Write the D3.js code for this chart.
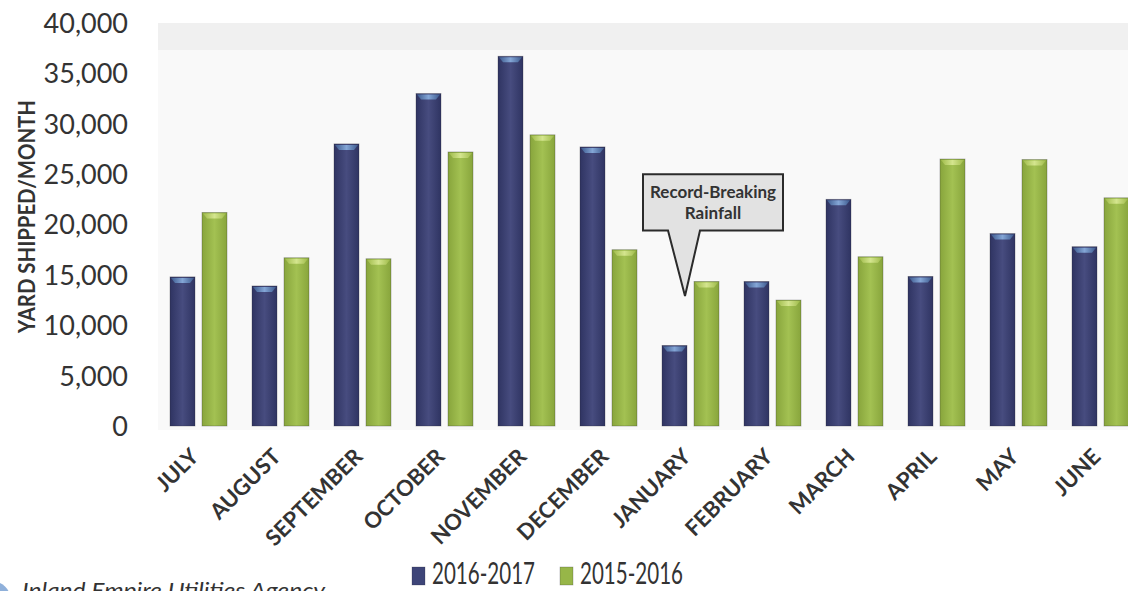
<!DOCTYPE html>
<html>
<head>
<meta charset="utf-8">
<script src="https://cdn.jsdelivr.net/npm/d3@7"></script>
<style>
  body { margin: 0; background: #fff; }
  text { font-family: Lato, "Open Sans", sans-serif; fill: #333; }
</style>
</head>
<body>
<script>
var months = ["JULY", "AUGUST", "SEPTEMBER", "OCTOBER", "NOVEMBER", "DECEMBER",
              "JANUARY", "FEBRUARY", "MARCH", "APRIL", "MAY", "JUNE"];
var series = ["2016-2017", "2015-2016"];
var fy2017 = [14800, 13900, 28000, 33000, 36700, 27700, 8000, 14350, 22500, 14850, 19100, 17800];
var fy2016 = [21200, 16700, 16600, 27200, 28900, 17500, 14350, 12500, 16800, 26500, 26450, 22650];
var yTicks = [0, 5000, 10000, 15000, 20000, 25000, 30000, 35000, 40000];

var W = 1128, H = 591;

var svg = d3.select("body").append("svg")
    .attr("width", W)
    .attr("height", H);

var defs = svg.append("defs");
function barGrad(id, edge, mid) {
  var g = defs.append("linearGradient").attr("id", id)
      .attr("x1", "0%").attr("x2", "100%").attr("y1", "0%").attr("y2", "0%");
  g.append("stop").attr("offset", "0%").attr("stop-color", edge);
  g.append("stop").attr("offset", "50%").attr("stop-color", mid);
  g.append("stop").attr("offset", "100%").attr("stop-color", edge);
}
barGrad("gBlue", "#2f3462", "#474c7f");
barGrad("gGreen", "#88a53c", "#a3c152");
barGrad("capBlue", "#3d5a8e", "#84a6d6");
barGrad("capGreen", "#9fbb4a", "#d4e58e");

var colors = {"2016-2017": "url(#gBlue)", "2015-2016": "url(#gGreen)"};
var caps = {"2016-2017": "url(#capBlue)", "2015-2016": "url(#capGreen)"};
var swatch = {"2016-2017": "#3e4578", "2015-2016": "#97b648"};

var x0 = d3.scaleBand().domain(months).range([158, 1142]).padding(0);
var x1 = d3.scaleBand().domain(series).range([12, 69]).paddingInner(0.21875);
var y = d3.scaleLinear().domain([0, 40000]).range([426, 23]);

// plot background
svg.append("rect").attr("x", 158).attr("y", y(40000)).attr("width", W - 158)
    .attr("height", y(0) - y(40000) + 4).attr("fill", "#f9f9f9");
svg.append("rect").attr("x", 158).attr("y", y(40000)).attr("width", W - 158)
    .attr("height", 27).attr("fill", "#f0f0f0");

// y axis labels
var yAxis = d3.axisLeft(y).tickValues(yTicks).tickSize(0).tickPadding(0)
    .tickFormat(d3.format(","));
var yg = svg.append("g").attr("transform", "translate(128,0)").call(yAxis);
yg.select(".domain").remove();
yg.selectAll("text").style("font-size", "27px").attr("fill", "#333").attr("dy", "0.35em");

svg.append("text")
    .attr("transform", "translate(35," + ((y(0) + y(40000)) / 2 - 8) + ") rotate(-90)")
    .attr("text-anchor", "middle")
    .attr("textLength", 233).attr("lengthAdjust", "spacingAndGlyphs")
    .style("font-size", "22px").style("font-weight", "bold")
    .text("YARD SHIPPED/MONTH");

// bars
var rows = months.map(function(m, i) {
  return {month: m, values: [{s: series[0], v: fy2017[i]}, {s: series[1], v: fy2016[i]}]};
});

var groups = svg.selectAll("g.month").data(rows).enter().append("g")
    .attr("class", "month")
    .attr("transform", function(d) { return "translate(" + x0(d.month) + ",0)"; });

groups.selectAll("rect.bar").data(function(d) { return d.values; }).enter().append("rect")
    .attr("class", "bar")
    .attr("x", function(d) { return x1(d.s); })
    .attr("y", function(d) { return y(d.v); })
    .attr("width", x1.bandwidth())
    .attr("height", function(d) { return y(0) - y(d.v); })
    .attr("fill", function(d) { return colors[d.s]; })
    .attr("stroke", "rgba(40,40,50,0.35)").attr("stroke-width", 0.8);

groups.selectAll("path.cap").data(function(d) { return d.values; }).enter().append("path")
    .attr("class", "cap")
    .attr("d", function(d) {
      var l = x1(d.s) + 1, r = x1(d.s) + x1.bandwidth() - 1, t = y(d.v) + 1;
      return "M" + l + "," + t + "L" + r + "," + t + "L" + (r - 4) + "," + (t + 5) +
             "L" + (l + 4) + "," + (t + 5) + "Z";
    })
    .attr("fill", function(d) { return caps[d.s]; });

// month labels
svg.selectAll("text.month").data(months).enter().append("text")
    .attr("class", "month")
    .attr("text-anchor", "end")
    .attr("transform", function(d) {
      return "translate(" + (x0(d) + x0.bandwidth() / 2 + 1) + "," + (y(0) + 32) + ") rotate(-45)";
    })
    .style("font-size", "22px").style("font-weight", "bold").attr("fill", "#2a2a2a")
    .text(function(d) { return d; });

// annotation callout pointing at January
var tipX = x0("JANUARY") + 35, tipY = y(12900);
var bx0 = tipX - 42, bx1 = tipX + 98, by0 = y(25000), by1 = y(19400);
svg.append("path")
    .attr("d", "M" + bx0 + "," + by0 + "L" + bx1 + "," + by0 + "L" + bx1 + "," + by1 +
         "L" + (tipX + 15) + "," + by1 + "L" + tipX + "," + tipY + "L" + (tipX - 17) + "," + by1 +
         "L" + bx0 + "," + by1 + "Z")
    .attr("fill", "#e2e2e2").attr("stroke", "#2b2b2b").attr("stroke-width", 2);
var note = svg.append("text").attr("text-anchor", "middle")
    .style("font-size", "17px").style("font-weight", "bold").attr("fill", "#3a3a3a");
note.append("tspan").attr("x", (bx0 + bx1) / 2).attr("y", by0 + 24)
    .attr("textLength", 126).attr("lengthAdjust", "spacingAndGlyphs").text("Record-Breaking");
note.append("tspan").attr("x", (bx0 + bx1) / 2).attr("y", by0 + 45).text("Rainfall");

// legend
var legX = [412, 560];
series.forEach(function(s, i) {
  svg.append("rect").attr("x", legX[i]).attr("y", 567).attr("width", 13).attr("height", 18)
      .attr("fill", swatch[s]).attr("stroke", "rgba(40,40,50,0.4)").attr("stroke-width", 0.6);
  svg.append("text").attr("x", legX[i] + 20).attr("y", 584)
      .attr("textLength", 103).attr("lengthAdjust", "spacingAndGlyphs")
      .style("font-size", "30px").attr("fill", "#2a2a2a")
      .text(s);
});

// agency logo, cut off at the bottom edge as in the source
svg.append("circle").attr("cx", -6).attr("cy", 598).attr("r", 16).attr("fill", "#8fb0da");
svg.append("text").attr("x", 22).attr("y", 598)
    .attr("textLength", 303).attr("lengthAdjust", "spacingAndGlyphs")
    .style("font-size", "21px").style("font-style", "italic").attr("fill", "#5a8fd0")
    .text("Inland Empire Utilities Agency");
</script>
</body>
</html>
